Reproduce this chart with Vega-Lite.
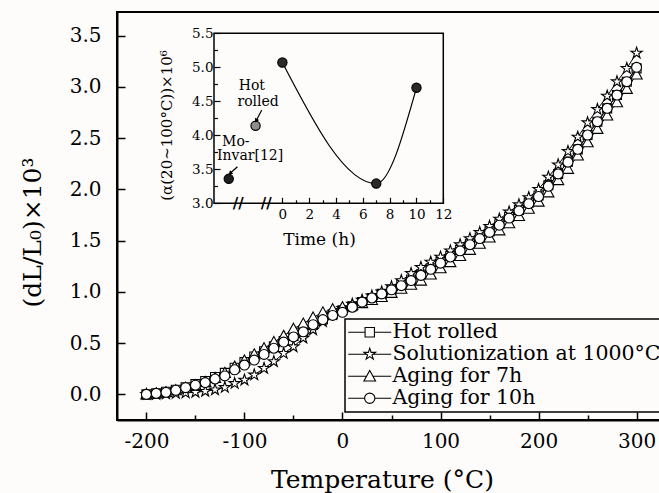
{
 "$schema": "https://vega.github.io/schema/vega-lite/v6.json",
 "width": 549, "height": 408,
 "autosize": {"type": "none"},
 "padding": {"left": 117, "top": 12, "right": 0, "bottom": 73},
 "background": "#fdfcfb",
 "config": {
  "font": "DejaVu Serif",
  "view": {"stroke": "black", "strokeWidth": 2},
  "axis": {"labelFont": "DejaVu Serif", "titleFont": "DejaVu Serif", "labelColor": "black", "titleColor": "black", "domainColor": "black", "tickColor": "black", "grid": false, "titleFontWeight": "normal", "labelOverlap": false, "labelFlush": false},
  "legend": {"strokeWidth": 1.5}
 },
 "resolve": {"scale": {"x": "independent", "y": "independent"}, "axis": {"x": "independent", "y": "independent"}},
 "layer": [
  {
   "data": {"values": [
{"s":"Hot rolled","t":-200,"v":0},{"s":"Hot rolled","t":-190,"v":0.01},{"s":"Hot rolled","t":-180,"v":0.025},{"s":"Hot rolled","t":-170,"v":0.045},{"s":"Hot rolled","t":-160,"v":0.07},{"s":"Hot rolled","t":-150,"v":0.1},{"s":"Hot rolled","t":-140,"v":0.13},{"s":"Hot rolled","t":-130,"v":0.17},{"s":"Hot rolled","t":-120,"v":0.21},{"s":"Hot rolled","t":-110,"v":0.26},{"s":"Hot rolled","t":-100,"v":0.315},{"s":"Hot rolled","t":-90,"v":0.37},{"s":"Hot rolled","t":-80,"v":0.42},{"s":"Hot rolled","t":-70,"v":0.47},{"s":"Hot rolled","t":-60,"v":0.52},{"s":"Hot rolled","t":-50,"v":0.57},{"s":"Hot rolled","t":-40,"v":0.62},{"s":"Hot rolled","t":-30,"v":0.68},{"s":"Hot rolled","t":-20,"v":0.73},{"s":"Hot rolled","t":-10,"v":0.78},{"s":"Hot rolled","t":0,"v":0.82},{"s":"Hot rolled","t":10,"v":0.86},{"s":"Hot rolled","t":20,"v":0.9},{"s":"Hot rolled","t":30,"v":0.94},{"s":"Hot rolled","t":40,"v":0.98},{"s":"Hot rolled","t":50,"v":1.02},{"s":"Hot rolled","t":60,"v":1.07},{"s":"Hot rolled","t":70,"v":1.12},{"s":"Hot rolled","t":80,"v":1.17},{"s":"Hot rolled","t":90,"v":1.23},{"s":"Hot rolled","t":100,"v":1.29},{"s":"Hot rolled","t":110,"v":1.35},{"s":"Hot rolled","t":120,"v":1.41},{"s":"Hot rolled","t":130,"v":1.47},{"s":"Hot rolled","t":140,"v":1.53},{"s":"Hot rolled","t":150,"v":1.59},{"s":"Hot rolled","t":160,"v":1.66},{"s":"Hot rolled","t":170,"v":1.73},{"s":"Hot rolled","t":180,"v":1.8},{"s":"Hot rolled","t":190,"v":1.87},{"s":"Hot rolled","t":200,"v":1.94},{"s":"Hot rolled","t":210,"v":2.04},{"s":"Hot rolled","t":220,"v":2.15},{"s":"Hot rolled","t":230,"v":2.27},{"s":"Hot rolled","t":240,"v":2.39},{"s":"Hot rolled","t":250,"v":2.53},{"s":"Hot rolled","t":260,"v":2.66},{"s":"Hot rolled","t":270,"v":2.79},{"s":"Hot rolled","t":280,"v":2.92},{"s":"Hot rolled","t":290,"v":3.05},{"s":"Hot rolled","t":300,"v":3.18},
{"s":"Solutionization at 1000°C","t":-200,"v":0},{"s":"Solutionization at 1000°C","t":-190,"v":0},{"s":"Solutionization at 1000°C","t":-180,"v":0.005},{"s":"Solutionization at 1000°C","t":-170,"v":0.01},{"s":"Solutionization at 1000°C","t":-160,"v":0.015},{"s":"Solutionization at 1000°C","t":-150,"v":0.02},{"s":"Solutionization at 1000°C","t":-140,"v":0.03},{"s":"Solutionization at 1000°C","t":-130,"v":0.045},{"s":"Solutionization at 1000°C","t":-120,"v":0.068},{"s":"Solutionization at 1000°C","t":-110,"v":0.107},{"s":"Solutionization at 1000°C","t":-100,"v":0.14},{"s":"Solutionization at 1000°C","t":-90,"v":0.19},{"s":"Solutionization at 1000°C","t":-80,"v":0.254},{"s":"Solutionization at 1000°C","t":-70,"v":0.32},{"s":"Solutionization at 1000°C","t":-60,"v":0.4},{"s":"Solutionization at 1000°C","t":-50,"v":0.465},{"s":"Solutionization at 1000°C","t":-40,"v":0.55},{"s":"Solutionization at 1000°C","t":-30,"v":0.63},{"s":"Solutionization at 1000°C","t":-20,"v":0.71},{"s":"Solutionization at 1000°C","t":-10,"v":0.78},{"s":"Solutionization at 1000°C","t":0,"v":0.84},{"s":"Solutionization at 1000°C","t":10,"v":0.88},{"s":"Solutionization at 1000°C","t":20,"v":0.92},{"s":"Solutionization at 1000°C","t":30,"v":0.96},{"s":"Solutionization at 1000°C","t":40,"v":1.0},{"s":"Solutionization at 1000°C","t":50,"v":1.05},{"s":"Solutionization at 1000°C","t":60,"v":1.11},{"s":"Solutionization at 1000°C","t":70,"v":1.18},{"s":"Solutionization at 1000°C","t":80,"v":1.24},{"s":"Solutionization at 1000°C","t":90,"v":1.29},{"s":"Solutionization at 1000°C","t":100,"v":1.34},{"s":"Solutionization at 1000°C","t":110,"v":1.4},{"s":"Solutionization at 1000°C","t":120,"v":1.46},{"s":"Solutionization at 1000°C","t":130,"v":1.52},{"s":"Solutionization at 1000°C","t":140,"v":1.58},{"s":"Solutionization at 1000°C","t":150,"v":1.64},{"s":"Solutionization at 1000°C","t":160,"v":1.71},{"s":"Solutionization at 1000°C","t":170,"v":1.78},{"s":"Solutionization at 1000°C","t":180,"v":1.85},{"s":"Solutionization at 1000°C","t":190,"v":1.92},{"s":"Solutionization at 1000°C","t":200,"v":2.0},{"s":"Solutionization at 1000°C","t":210,"v":2.12},{"s":"Solutionization at 1000°C","t":220,"v":2.24},{"s":"Solutionization at 1000°C","t":230,"v":2.37},{"s":"Solutionization at 1000°C","t":240,"v":2.51},{"s":"Solutionization at 1000°C","t":250,"v":2.65},{"s":"Solutionization at 1000°C","t":260,"v":2.78},{"s":"Solutionization at 1000°C","t":270,"v":2.91},{"s":"Solutionization at 1000°C","t":280,"v":3.05},{"s":"Solutionization at 1000°C","t":290,"v":3.18},{"s":"Solutionization at 1000°C","t":300,"v":3.33},
{"s":"Aging for 7h","t":-200,"v":0},{"s":"Aging for 7h","t":-190,"v":0.01},{"s":"Aging for 7h","t":-180,"v":0.02},{"s":"Aging for 7h","t":-170,"v":0.04},{"s":"Aging for 7h","t":-160,"v":0.065},{"s":"Aging for 7h","t":-150,"v":0.09},{"s":"Aging for 7h","t":-140,"v":0.12},{"s":"Aging for 7h","t":-130,"v":0.16},{"s":"Aging for 7h","t":-120,"v":0.21},{"s":"Aging for 7h","t":-110,"v":0.27},{"s":"Aging for 7h","t":-100,"v":0.33},{"s":"Aging for 7h","t":-90,"v":0.39},{"s":"Aging for 7h","t":-80,"v":0.45},{"s":"Aging for 7h","t":-70,"v":0.51},{"s":"Aging for 7h","t":-60,"v":0.57},{"s":"Aging for 7h","t":-50,"v":0.64},{"s":"Aging for 7h","t":-40,"v":0.69},{"s":"Aging for 7h","t":-30,"v":0.75},{"s":"Aging for 7h","t":-20,"v":0.8},{"s":"Aging for 7h","t":-10,"v":0.83},{"s":"Aging for 7h","t":0,"v":0.85},{"s":"Aging for 7h","t":10,"v":0.87},{"s":"Aging for 7h","t":20,"v":0.89},{"s":"Aging for 7h","t":30,"v":0.92},{"s":"Aging for 7h","t":40,"v":0.95},{"s":"Aging for 7h","t":50,"v":0.99},{"s":"Aging for 7h","t":60,"v":1.03},{"s":"Aging for 7h","t":70,"v":1.07},{"s":"Aging for 7h","t":80,"v":1.11},{"s":"Aging for 7h","t":90,"v":1.17},{"s":"Aging for 7h","t":100,"v":1.23},{"s":"Aging for 7h","t":110,"v":1.29},{"s":"Aging for 7h","t":120,"v":1.35},{"s":"Aging for 7h","t":130,"v":1.41},{"s":"Aging for 7h","t":140,"v":1.47},{"s":"Aging for 7h","t":150,"v":1.53},{"s":"Aging for 7h","t":160,"v":1.6},{"s":"Aging for 7h","t":170,"v":1.67},{"s":"Aging for 7h","t":180,"v":1.74},{"s":"Aging for 7h","t":190,"v":1.81},{"s":"Aging for 7h","t":200,"v":1.88},{"s":"Aging for 7h","t":210,"v":1.97},{"s":"Aging for 7h","t":220,"v":2.09},{"s":"Aging for 7h","t":230,"v":2.2},{"s":"Aging for 7h","t":240,"v":2.33},{"s":"Aging for 7h","t":250,"v":2.46},{"s":"Aging for 7h","t":260,"v":2.59},{"s":"Aging for 7h","t":270,"v":2.72},{"s":"Aging for 7h","t":280,"v":2.85},{"s":"Aging for 7h","t":290,"v":2.98},{"s":"Aging for 7h","t":300,"v":3.12},
{"s":"Aging for 10h","t":-200,"v":0},{"s":"Aging for 10h","t":-190,"v":0.01},{"s":"Aging for 10h","t":-180,"v":0.02},{"s":"Aging for 10h","t":-170,"v":0.04},{"s":"Aging for 10h","t":-160,"v":0.065},{"s":"Aging for 10h","t":-150,"v":0.09},{"s":"Aging for 10h","t":-140,"v":0.115},{"s":"Aging for 10h","t":-130,"v":0.15},{"s":"Aging for 10h","t":-120,"v":0.18},{"s":"Aging for 10h","t":-110,"v":0.24},{"s":"Aging for 10h","t":-100,"v":0.286},{"s":"Aging for 10h","t":-90,"v":0.335},{"s":"Aging for 10h","t":-80,"v":0.39},{"s":"Aging for 10h","t":-70,"v":0.45},{"s":"Aging for 10h","t":-60,"v":0.51},{"s":"Aging for 10h","t":-50,"v":0.56},{"s":"Aging for 10h","t":-40,"v":0.61},{"s":"Aging for 10h","t":-30,"v":0.68},{"s":"Aging for 10h","t":-20,"v":0.73},{"s":"Aging for 10h","t":-10,"v":0.77},{"s":"Aging for 10h","t":0,"v":0.8},{"s":"Aging for 10h","t":10,"v":0.85},{"s":"Aging for 10h","t":20,"v":0.9},{"s":"Aging for 10h","t":30,"v":0.94},{"s":"Aging for 10h","t":40,"v":0.98},{"s":"Aging for 10h","t":50,"v":1.02},{"s":"Aging for 10h","t":60,"v":1.06},{"s":"Aging for 10h","t":70,"v":1.11},{"s":"Aging for 10h","t":80,"v":1.16},{"s":"Aging for 10h","t":90,"v":1.22},{"s":"Aging for 10h","t":100,"v":1.28},{"s":"Aging for 10h","t":110,"v":1.34},{"s":"Aging for 10h","t":120,"v":1.4},{"s":"Aging for 10h","t":130,"v":1.46},{"s":"Aging for 10h","t":140,"v":1.52},{"s":"Aging for 10h","t":150,"v":1.58},{"s":"Aging for 10h","t":160,"v":1.65},{"s":"Aging for 10h","t":170,"v":1.72},{"s":"Aging for 10h","t":180,"v":1.79},{"s":"Aging for 10h","t":190,"v":1.86},{"s":"Aging for 10h","t":200,"v":1.93},{"s":"Aging for 10h","t":210,"v":2.03},{"s":"Aging for 10h","t":220,"v":2.15},{"s":"Aging for 10h","t":230,"v":2.265},{"s":"Aging for 10h","t":240,"v":2.39},{"s":"Aging for 10h","t":250,"v":2.53},{"s":"Aging for 10h","t":260,"v":2.66},{"s":"Aging for 10h","t":270,"v":2.79},{"s":"Aging for 10h","t":280,"v":2.92},{"s":"Aging for 10h","t":290,"v":3.05},{"s":"Aging for 10h","t":300,"v":3.19}
   ]},
   "resolve": {"scale": {"shape": "independent"}},
   "layer": [
    {
     "mark": {"type": "line", "color": "black", "strokeWidth": 1},
     "encoding": {
      "x": {"field": "t", "type": "quantitative", "scale": {"domain": [-230, 330], "nice": false, "zero": false},
       "axis": {"orient": "bottom", "values": [-200,-150,-100,-50,0,50,100,150,200,250,300],
        "labelExpr": "datum.value % 100 === 0 ? '' + datum.value : ''",
        "tickSize": {"condition": {"test": "datum.value % 100 === 0", "value": -8}, "value": -5},
        "tickWidth": 1.5, "domainWidth": 2, "labelFontSize": 20, "labelPadding": 19,
        "title": "Temperature (°C)", "titleFontSize": 25, "titleX": 265, "titleY": 67, "titleBaseline": "alphabetic", "titleAlign": "center"}},
      "y": {"field": "v", "type": "quantitative", "scale": {"domain": [-0.25, 3.73], "nice": false, "zero": false},
       "axis": {"orient": "left", "values": [0,0.25,0.5,0.75,1,1.25,1.5,1.75,2,2.25,2.5,2.75,3,3.25,3.5],
        "labelExpr": "datum.value % 0.5 === 0 ? format(datum.value, '.1f') : ''",
        "tickSize": {"condition": {"test": "datum.value % 0.5 === 0", "value": -8}, "value": -5},
        "tickWidth": 1.5, "domainWidth": 2, "labelFontSize": 20, "labelPadding": 24,
        "title": "(dL/L₀)×10³", "titleFontSize": 25, "titleAngle": -90, "titleX": -77, "titleY": 220, "titleBaseline": "alphabetic", "titleAlign": "center"}},
      "detail": {"field": "s", "type": "nominal"}
     }
    },
    {
     "mark": {"type": "point", "filled": false, "stroke": "black", "fill": "white", "fillOpacity": 1, "opacity": 1, "strokeWidth": 1.1, "size": 324},
     "encoding": {
      "x": {"field": "t", "type": "quantitative"},
      "y": {"field": "v", "type": "quantitative"},
      "shape": {"field": "s", "type": "nominal", "legend": null,
       "scale": {"domain": ["Hot rolled", "Solutionization at 1000°C", "Aging for 7h", "Aging for 10h"],
        "range": ["M-0.5,-0.5H0.5V0.5H-0.5Z",
                  "M0,-0.65L0.146,-0.201L0.618,-0.201L0.236,0.077L0.382,0.526L0,0.248L-0.382,0.526L-0.236,0.077L-0.618,-0.201L-0.146,-0.201Z",
                  "M0,-0.62L0.62,0.5L-0.62,0.5Z",
                  "M0.55,0A0.55,0.55 0 1,1 -0.55,0A0.55,0.55 0 1,1 0.55,0Z"]}}
     }
    },
    {
     "transform": [{"filter": "datum.t > 10000"}],
     "mark": {"type": "point", "filled": false, "color": "black", "opacity": 1, "strokeWidth": 1.1},
     "encoding": {
      "shape": {"field": "s", "type": "nominal",
       "scale": {"domain": ["Hot rolled", "Solutionization at 1000°C", "Aging for 7h", "Aging for 10h"],
        "range": ["M-2.3,0H-0.5M0.5,0H2.3M-0.5,-0.5H0.5V0.5H-0.5Z",
                  "M-2.3,0H-0.34M0.34,0H2.3M0,-0.65L0.146,-0.201L0.618,-0.201L0.236,0.077L0.382,0.526L0,0.248L-0.382,0.526L-0.236,0.077L-0.618,-0.201L-0.146,-0.201Z",
                  "M-2.3,0H-0.343M0.343,0H2.3M0,-0.62L0.62,0.5L-0.62,0.5Z",
                  "M-2.3,0H-0.55M0.55,0H2.3M0.55,0A0.55,0.55 0 1,1 -0.55,0A0.55,0.55 0 1,1 0.55,0Z"]},
       "legend": {"title": null, "orient": "none", "legendX": 228, "legendY": 307, "direction": "vertical",
        "labelFont": "DejaVu Serif", "labelFontSize": 20.5, "labelColor": "black", "labelLimit": 400,
        "symbolSize": 350, "symbolFillColor": "white", "symbolStrokeColor": "black", "symbolStrokeWidth": 1.1, "symbolOpacity": 1,
        "symbolOffset": 11.5, "labelOffset": 12.5, "padding": 3, "rowPadding": 1,
        "strokeColor": "black", "fillColor": "#fdfcfb"}}
     }
    }
   ]
  },
  {
   "layer": [
    {
     "data": {"values": [{"frame": "inset"}]},
     "mark": {"type": "rect", "fillOpacity": 0, "stroke": "black", "strokeWidth": 1.5},
     "encoding": {
      "x": {"datum": -5.1, "type": "quantitative", "scale": {"domain": [-5.1, 12], "range": [97, 326.3], "nice": false, "zero": false},
       "axis": {"orient": "bottom", "offset": -216.7, "values": [0,1,2,3,4,5,6,7,8,9,10,11,12],
        "labelExpr": "datum.value % 2 === 0 ? datum.label : ''",
        "tickSize": {"condition": {"test": "datum.value % 2 === 0", "value": -6}, "value": -3.5},
        "tickWidth": 1.2, "domain": false, "labelFontSize": 13.5, "labelPadding": 10,
        "title": "Time (h)", "titleFontSize": 17, "titleX": 202, "titleY": 40.7, "titleBaseline": "alphabetic", "titleAlign": "center"}},
      "x2": {"datum": 12},
      "y": {"datum": 3, "type": "quantitative", "scale": {"domain": [3, 5.5], "range": [191.3, 21.3], "nice": false, "zero": false},
       "axis": {"orient": "left", "offset": -97, "values": [3,3.25,3.5,3.75,4,4.25,4.5,4.75,5,5.25,5.5],
        "labelExpr": "datum.value % 0.5 === 0 ? format(datum.value, '.1f') : ''",
        "tickSize": {"condition": {"test": "datum.value % 0.5 === 0", "value": -6}, "value": -3.5},
        "tickWidth": 1.2, "domain": false, "labelFontSize": 13.5, "labelPadding": 7,
        "title": "(α(20~100°C))×10⁶", "titleFontSize": 15, "titleAngle": -90, "titleX": -43, "titleY": 113, "titleBaseline": "alphabetic", "titleAlign": "center"}},
      "y2": {"datum": 5.5}
     }
    },
    {
     "data": {"values": [{"h": 0, "a": 5.07}, {"h": 7, "a": 3.29}, {"h": 10, "a": 4.7}]},
     "mark": {"type": "line", "interpolate": "monotone", "color": "black", "strokeWidth": 1.2},
     "encoding": {"x": {"field": "h", "type": "quantitative"}, "y": {"field": "a", "type": "quantitative"}}
    },
    {
     "data": {"values": [
      {"h": -4, "a": 3.36, "k": "Mo-Invar"},
      {"h": -2, "a": 4.14, "k": "Hot rolled"},
      {"h": 0, "a": 5.07, "k": "Aged"},
      {"h": 7, "a": 3.29, "k": "Aged"},
      {"h": 10, "a": 4.7, "k": "Aged"}]},
     "mark": {"type": "point", "filled": true, "opacity": 1, "stroke": "black", "strokeWidth": 1.2, "size": 85},
     "encoding": {
      "x": {"field": "h", "type": "quantitative"},
      "y": {"field": "a", "type": "quantitative"},
      "color": {"field": "k", "type": "nominal", "legend": null, "scale": {"domain": ["Mo-Invar", "Hot rolled", "Aged"], "range": ["#1e1e1e", "#8e8e8e", "#2a2a2a"]}}
     }
    },
    {
     "data": {"values": [
      {"h": -2.28, "a": 4.725, "txt": "Hot"},
      {"h": -1.81, "a": 4.494, "txt": "rolled"},
      {"h": -3.47, "a": 3.906, "txt": "Mo-"},
      {"h": -2.41, "a": 3.69, "txt": "Invar[12]"}]},
     "mark": {"type": "text", "font": "DejaVu Serif", "fontSize": 14, "color": "black", "align": "center", "baseline": "middle"},
     "encoding": {"x": {"field": "h", "type": "quantitative"}, "y": {"field": "a", "type": "quantitative"}, "text": {"field": "txt"}}
    },
    {
     "data": {"values": [
      {"h1": -1.535, "a1": 4.372, "h2": -1.96, "a2": 4.215, "ang": 208},
      {"h1": -3.353, "a1": 3.538, "h2": -3.897, "a2": 3.441, "ang": 228}]},
     "layer": [
      {"mark": {"type": "rule", "color": "black", "strokeWidth": 1.2},
       "encoding": {"x": {"field": "h1", "type": "quantitative"}, "y": {"field": "a1", "type": "quantitative"}, "x2": {"field": "h2"}, "y2": {"field": "a2"}}},
      {"mark": {"type": "point", "shape": "triangle-up", "filled": true, "color": "black", "opacity": 1, "size": 22},
       "encoding": {"x": {"field": "h2", "type": "quantitative"}, "y": {"field": "a2", "type": "quantitative"}, "angle": {"field": "ang", "type": "quantitative", "scale": null}}}
     ]
    },
    {
     "data": {"values": [{"h": -3.3, "a": 3.0, "m": "//"}, {"h": -1.2, "a": 3.0, "m": "//"}]},
     "mark": {"type": "text", "font": "DejaVu Serif", "fontSize": 15, "fontWeight": "bold", "color": "black", "align": "center", "baseline": "middle"},
     "encoding": {"x": {"field": "h", "type": "quantitative"}, "y": {"field": "a", "type": "quantitative"}, "text": {"field": "m"}}
    }
   ]
  }
 ]
}
